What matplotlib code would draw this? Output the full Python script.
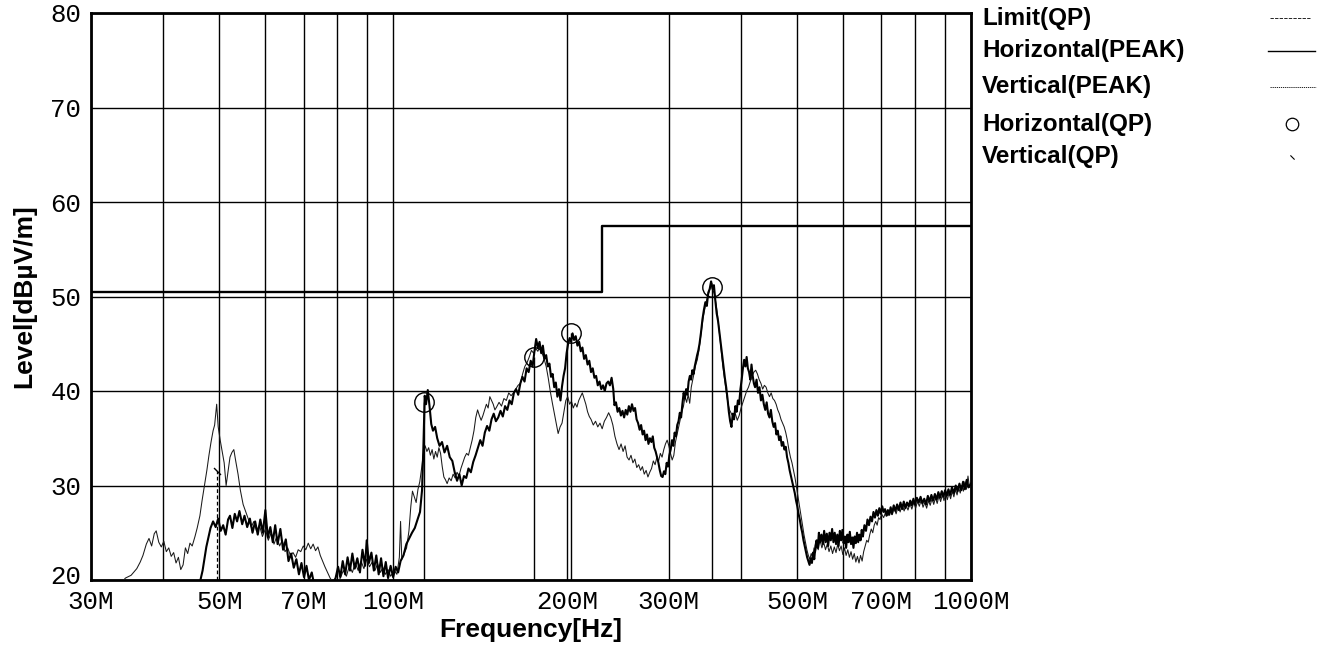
import matplotlib
matplotlib.use("Agg")
import matplotlib.pyplot as plt
from matplotlib.lines import Line2D
from matplotlib.path import Path
from matplotlib.ticker import NullLocator
from matplotlib.transforms import ScaledTranslation

# ---------------- data ----------------
grid_freqs = [30, 40, 50, 60, 70, 80, 90, 100, 200, 300, 400, 500, 600, 700, 800, 900, 1000]
x_tick_labels = ["30M", "", "50M", "", "70M", "", "", "100M", "200M", "300M", "",
                 "500M", "", "700M", "", "", "1000M"]
y_ticks = [20, 30, 40, 50, 60, 70, 80]
y_tick_labels = ["20", "30", "40", "50", "60", "70", "80"]

limit_freq = [30, 230, 230, 1000]
limit_level = [50.5, 50.5, 57.5, 57.5]

h_peak_freq = [30, 44, 46.2, 46.8, 47.5, 48.3, 48.8, 49.3, 49.8, 50.3, 50.8, 51.3, 51.8, 52.2, 52.7, 53.2,
    53.7, 54.2, 54.8, 55.3, 55.9, 56.5, 57.1, 57.7, 58.3, 58.9, 59.5, 60.1, 60.7, 61.3, 61.9, 62.5,
    63.1, 63.8, 64.5, 65.2, 65.9, 66.6, 67.3, 68.0, 68.7, 69.4, 70.1, 70.8, 71.5, 72.3, 73.0, 75, 78,
    79.5, 80.3, 81.0, 81.8, 82.6, 83.4, 84.2, 85.0, 85.8, 86.7, 87.6, 88.5, 89.4, 90.0, 90.8, 91.7,
    92.6, 93.5, 94.4, 95.3, 96.2, 97.1, 98.0, 99.0, 100.0, 101.0, 102.0, 103.0, 104.2, 105.4, 106.6,
    107.8, 109.0, 110.2, 111.3, 112.2, 112.8, 113.4, 114.0, 114.8, 115.6, 116.4, 117.2, 118.2, 119.2,
    120.3, 121.5, 122.7, 124.0, 125.3, 126.6, 127.8, 129.0, 130.2, 131.4, 132.6, 133.8, 135.0, 136.3,
    137.6, 138.9, 140.2, 141.5, 142.8, 144.1, 145.4, 146.7, 148.0, 149.3, 150.6, 152.0, 153.4, 154.8,
    156.2, 157.6, 159.0, 160.4, 161.8, 163.2, 164.6, 166.0, 167.4, 168.8, 170.2, 171.6, 173.0, 174.3,
    175.6, 176.8, 178.0, 179.2, 180.4, 181.6, 182.8, 184.0, 185.2, 186.4, 187.6, 188.8, 190.0, 191.2,
    192.4, 193.6, 194.8, 196.0, 197.2, 198.4, 199.6, 200.8, 202.0, 203.2, 204.4, 205.6, 207.0, 208.4,
    209.8, 211.2, 212.6, 214.0, 215.5, 217.0, 218.5, 220.0, 221.5, 223.0, 224.5, 226.0, 227.6, 229.2,
    230.8, 232.4, 234.0, 235.6, 237.2, 238.8, 240.4, 241.5, 243.0, 244.6, 246.2, 247.8, 249.4, 251.0,
    252.6, 254.2, 255.8, 257.4, 259.0, 260.6, 262.2, 263.8, 265.4, 267.0, 268.6, 270.2, 271.8, 273.4,
    275.0, 276.6, 278.2, 279.8, 281.4, 283.0, 284.6, 286.2, 287.8, 289.4, 291.0, 292.6, 294.2, 295.8,
    297.4, 299.0, 300.6, 302.2, 303.8, 305.4, 307.0, 308.6, 310.2, 311.8, 313.4, 315.0, 316.6, 318.2,
    319.8, 321.4, 323.0, 324.6, 326.2, 327.8, 329.4, 331.0, 332.6, 334.2, 335.8, 337.4, 339.0, 341.0,
    343.0, 345.0, 347.0, 349.0, 351.0, 353.0, 355.0, 357.0, 359.0, 361.0, 363.0, 365.0, 367.0, 369.0,
    371.0, 373.0, 375.0, 377.0, 379.0, 381.0, 383.0, 385.0, 387.0, 389.0, 391.0, 393.0, 395.0, 397.0,
    399.0, 401.0, 403.0, 405.0, 407.0, 409.0, 411.0, 413.0, 415.0, 417.0, 419.0, 421.0, 423.0, 425.5,
    428.0, 430.5, 433.0, 435.5, 438.0, 440.5, 443.0, 445.5, 448.0, 450.5, 453.0, 455.5, 458.0, 460.5,
    463.0, 465.5, 468.0, 470.5, 473.0, 475.5, 478.0, 480.5, 483.0, 485.5, 488.0, 490.5, 493.0, 495.5,
    498.0, 500.5, 503.0, 505.5, 508.0, 510.5, 513.0, 515.5, 518.0, 520.5, 523.0, 525.5, 528.0, 530.5,
    533.0, 535.5, 538.0, 540.5, 543.0, 545.5, 548.0, 551.0, 554.0, 557.0, 560.0, 563.0, 566.0, 569.0,
    572.0, 575.0, 578.0, 581.0, 584.0, 587.0, 590.0, 593.0, 596.0, 599.0, 602.0, 605.0, 608.0, 611.0,
    614.0, 617.0, 620.0, 623.0, 626.0, 629.0, 632.0, 635.0, 638.0, 641.0, 644.0, 647.0, 650.0, 654.0,
    658.0, 662.0, 666.0, 670.0, 674.0, 678.0, 682.0, 686.0, 690.0, 694.0, 698.0, 702.0, 706.0, 710.0,
    714.0, 718.0, 722.0, 726.0, 730.0, 735.0, 740.0, 745.0, 750.0, 755.0, 760.0, 765.0, 770.0, 775.0,
    780.0, 785.0, 790.0, 795.0, 800.0, 806.0, 812.0, 818.0, 824.0, 830.0, 836.0, 842.0, 848.0, 854.0,
    860.0, 866.0, 872.0, 878.0, 884.0, 890.0, 896.0, 902.0, 908.0, 914.0, 920.0, 927.0, 934.0, 941.0,
    948.0, 955.0, 962.0, 969.0, 976.0, 983.0, 990.0, 1000.0]
h_peak_level = [17, 17, 19.5, 21, 23.5, 25.5, 26.2, 25.6, 26.5, 25.2, 25.8, 24.8, 26.4, 26.8, 25.5, 27.0,
    26.2, 27.3, 25.9, 26.8, 25.6, 26.5, 25.0, 26.2, 24.8, 26.4, 25.0, 27.4, 24.5, 25.6, 24.0, 25.8,
    23.8, 25.4, 23.2, 24.3, 22.0, 22.8, 21.3, 22.2, 20.6, 21.8, 20.3, 21.5, 20.0, 20.8, 19.5, 19, 19.3,
    20.2, 21.4, 20.3, 22.0, 20.6, 22.4, 21.0, 22.8, 21.2, 22.3, 20.8, 23.2, 21.5, 24.2, 21.8, 22.9,
    21.0, 22.6, 20.6, 22.3, 20.4, 21.9, 20.2, 21.5, 20.3, 21.4, 20.8, 22.0, 22.6, 23.8, 24.4,
    25.0, 25.5, 26.4, 27.2, 29.5, 34.0, 39.5, 38.6, 40.1, 38.4, 36.5, 35.8, 36.2, 35.0,
    34.2, 34.6, 33.5, 34.2, 33.0, 32.6, 31.4, 30.5, 31.2, 30.0, 31.0, 30.8, 31.8, 31.4,
    32.5, 33.2, 34.0, 34.8, 34.2, 35.6, 36.3, 35.8, 37.0, 37.6, 36.8, 37.2, 37.9, 37.3,
    38.4, 38.0, 39.0, 38.6, 39.8, 40.2, 39.6, 40.8, 41.5, 41.0, 42.4, 42.0, 43.2, 42.6,
    44.2, 45.5, 44.6, 45.2, 44.0, 44.8, 43.4, 43.8, 42.6, 42.9, 41.5, 41.8, 40.4, 40.9,
    39.4, 40.2, 39.0, 40.5, 41.6, 42.4, 44.0, 45.0, 45.6, 45.2, 46.1, 45.4, 45.8, 44.8,
    45.2, 44.2, 44.6, 43.4, 43.8, 42.8, 43.2, 42.0, 42.4, 41.4, 41.6, 40.6, 41.0, 40.2,
    40.6, 40.0, 40.8, 41.0, 40.6, 41.4, 40.2, 38.5, 38.8, 37.8, 38.2, 37.4, 37.9, 37.2,
    38.0, 37.5, 38.4, 37.8, 38.6, 37.9, 38.2, 37.0, 36.6, 35.9, 36.4, 35.4, 35.8, 34.8,
    35.4, 34.4, 35.0, 34.6, 35.2, 34.0, 33.6, 33.0, 32.4, 31.6, 31.0, 30.9, 31.5, 31.2,
    32.4, 32.0, 33.2, 33.8, 34.8, 34.2, 35.6, 35.2, 36.4, 36.8, 37.7, 37.2, 38.6, 39.8,
    39.2, 40.2, 39.6, 41.0, 41.6, 41.2, 42.2, 41.8, 42.6, 43.2, 43.8, 44.3, 45.0, 46.2,
    47.6, 48.6, 49.4, 49.0, 50.4, 50.8, 51.6, 50.8, 51.2, 49.6, 48.2, 47.4, 46.2, 45.1,
    43.8, 42.6, 41.4, 40.4, 39.2, 37.8, 36.8, 36.2, 37.6, 37.0, 38.4, 37.8, 39.0, 38.6,
    40.2, 41.2, 42.4, 43.3, 42.6, 43.6, 42.4, 42.0, 41.2, 42.8, 41.6, 40.8, 40.4, 41.2,
    39.8, 40.4, 39.0, 39.6, 38.6, 38.0, 38.8, 37.6, 37.2, 38.0, 36.8, 36.2, 36.6, 35.4,
    35.8, 34.8, 35.2, 34.2, 34.6, 33.8, 34.1, 33.0, 32.4, 31.6, 31.0, 30.4, 29.8, 29.2,
    28.4, 27.8, 27.0, 26.4, 25.6, 25.0, 24.2, 23.6, 23.0, 22.4, 22.0, 21.6, 22.3, 21.8,
    22.9, 22.2, 23.6, 24.2, 23.4, 25.0, 24.0, 24.8, 23.8, 25.2, 24.0, 24.9, 23.6, 25.0,
    24.2, 25.4, 24.0, 25.0, 23.8, 24.8, 23.6, 25.2, 24.2, 25.3, 23.9, 24.6, 23.4, 24.8,
    24.0, 25.1, 23.8, 24.5, 23.4, 24.6, 23.9, 25.0, 24.0, 24.8, 24.2, 25.3, 24.6, 25.8,
    25.2, 26.4, 25.8, 26.7, 26.2, 27.2, 26.6, 27.4, 26.8, 27.6, 27.0, 27.8, 27.2, 27.5,
    26.8, 27.4, 26.9, 27.7, 27.0, 27.9, 27.3, 28.0, 27.4, 28.2, 27.5, 28.3, 27.6, 28.2,
    27.8, 28.4, 27.9, 28.6, 28.0, 28.7, 28.2, 28.8, 28.1, 28.6, 28.0, 28.9, 28.3, 29.0,
    28.4, 29.1, 28.5, 29.3, 28.7, 29.4, 28.8, 29.5, 28.9, 29.6, 29.0, 29.8, 29.2, 30.0,
    29.4, 30.2, 29.5, 30.4, 29.6, 30.6, 29.8, 30.2]

v_peak_freq = [30, 33, 34.4, 35.2, 36.0, 36.5, 36.9, 37.4, 37.8, 38.2, 38.6, 38.9, 39.3, 39.7, 40.1, 40.5,
    40.9, 41.3, 41.7, 42.1, 42.5, 42.9, 43.3, 43.7, 44.1, 44.5, 44.9, 45.4, 45.8, 46.3, 46.7, 47.2,
    47.6, 48.0, 48.4, 48.8, 49.1, 49.5, 49.8, 50.2, 50.6, 51.0, 51.4, 51.8, 52.2, 52.6, 53.0, 53.4,
    53.9, 54.4, 55.0, 55.6, 56.2, 56.8, 57.4, 58.0, 58.7, 59.4, 60.1, 60.8, 61.5, 62.2, 62.9, 63.6,
    64.3, 65.0, 65.7, 66.4, 67.1, 67.8, 68.5, 69.2, 69.9, 70.6, 71.3, 72.0, 72.7, 73.4, 74.1, 74.8,
    75.5, 76.2, 77.0, 77.8, 78.6, 80, 81, 82, 83, 84, 85, 86, 87, 88, 89, 90, 91, 92, 93, 94, 95, 96,
    97, 98, 99, 100.5, 101.5, 102.5, 103.0, 103.5, 104.5, 105.5, 106.5, 107.3, 108.0, 108.8, 109.6,
    110.4, 111.2, 112.0, 112.8, 113.6, 114.4, 115.2, 116.0, 116.8, 117.6, 118.4, 119.2, 120.0, 120.8,
    121.6, 122.4, 123.2, 124.0, 125.0, 126.0, 127.0, 128.0, 129.0, 130.0, 131.0, 132.0, 133.0, 134.0,
    135.0, 136.0, 137.0, 138.0, 139.0, 140.0, 141.0, 142.0, 143.0, 144.0, 145.0, 146.0, 147.0, 148.0,
    149.0, 150.0, 151.0, 152.5, 154.0, 155.5, 157.0, 158.5, 160.0, 161.5, 163.0, 164.5, 166.0, 167.5,
    169.0, 170.5, 172.0, 173.5, 175.0, 176.5, 178.0, 179.5, 181.0, 182.5, 184.0, 185.5, 187.0, 188.5,
    190.0, 191.5, 193.0, 194.5, 196.0, 197.5, 199.0, 200.5, 202.0, 203.5, 205.0, 206.5, 208.0, 209.5,
    211.0, 212.5, 214.0, 215.5, 217.0, 218.5, 220.0, 222.0, 224.0, 226.0, 228.0, 230.0, 232.0, 234.0,
    236.0, 238.0, 240.0, 242.0, 244.0, 246.0, 248.0, 250.0, 252.0, 254.0, 256.0, 258.0, 260.0, 262.0,
    264.0, 266.0, 268.0, 270.0, 272.0, 274.0, 276.0, 278.0, 280.0, 282.0, 284.0, 286.0, 288.0, 290.0,
    292.0, 294.0, 296.0, 298.0, 300.0, 302.0, 304.0, 306.0, 308.0, 310.0, 312.0, 314.0, 316.0, 318.0,
    320.0, 322.0, 324.0, 326.0, 328.0, 330.0, 332.0, 334.0, 336.0, 338.0, 340.0, 342.0, 344.0, 346.0,
    348.0, 350.0, 352.0, 354.0, 356.0, 358.0, 360.0, 362.0, 364.0, 366.0, 368.0, 370.0, 372.0, 374.0,
    376.0, 378.0, 380.0, 382.0, 385.0, 388.0, 391.0, 394.0, 397.0, 400.0, 403.0, 406.0, 409.0, 412.0,
    415.0, 418.0, 421.0, 424.0, 427.0, 430.0, 433.0, 436.0, 439.0, 442.0, 445.0, 448.0, 451.0, 454.0,
    457.0, 460.0, 463.0, 466.0, 469.0, 472.0, 475.0, 478.0, 481.0, 484.0, 487.0, 490.0, 493.0, 496.0,
    499.0, 502.0, 505.0, 508.0, 511.0, 514.0, 517.0, 520.0, 523.0, 526.0, 529.0, 532.0, 535.0, 538.0,
    541.0, 544.0, 548.0, 552.0, 556.0, 560.0, 564.0, 568.0, 572.0, 576.0, 580.0, 584.0, 588.0, 592.0,
    596.0, 600.0, 604.0, 608.0, 612.0, 616.0, 620.0, 624.0, 628.0, 632.0, 636.0, 640.0, 644.0, 648.0,
    652.0, 656.0, 660.0, 664.0, 668.0, 672.0, 676.0, 680.0, 684.0, 688.0, 692.0, 696.0, 700.0, 706,
    712, 718, 724, 730, 736, 742, 748, 754, 760, 766, 772, 778, 784, 790, 796, 802, 808, 814, 820,
    826, 832, 838, 844, 850, 856, 862, 868, 874, 880, 886, 892, 898, 904, 910, 916, 922, 928, 934,
    940, 946, 952, 958, 964, 970, 976, 982, 988, 994, 1000]
v_peak_level = [18, 18.8, 20.2, 20.5, 21.2, 21.9, 22.6, 23.8, 24.4, 23.6, 24.9, 25.2, 24.0, 23.5, 24.1, 23.0,
    23.4, 22.5, 22.9, 21.8, 22.4, 21.1, 21.6, 23.4, 22.8, 23.9, 23.6, 24.6, 25.5, 26.8, 28.4, 30.2,
    31.6, 33.2, 34.6, 35.8, 36.4, 38.6, 36.2, 34.8, 33.6, 32.4, 30.0, 31.5, 33.0, 33.5, 33.8, 32.6,
    31.2, 29.5, 28.0, 27.2, 26.4, 25.6, 26.2, 25.2, 25.8, 24.6, 25.4, 24.2, 25.0, 23.8, 24.6, 23.6,
    24.2, 23.0, 23.4, 22.6, 22.9, 22.4, 23.2, 23.0, 23.6, 23.2, 23.9, 23.3, 23.8, 23.1, 23.5, 22.6,
    22.0, 21.4, 20.8, 20.2, 19.8, 19.6, 20.2, 21.0, 20.4, 21.5, 20.8, 21.8, 21.0, 22.0, 21.2, 22.2,
    21.4, 21.9, 21.0, 21.7, 20.8, 21.3, 20.6, 21.1, 20.4, 21.0, 20.6, 22.4, 26.2, 22.2, 22.8, 23.4,
    25.2, 27.8, 29.4, 28.8, 28.2, 29.6, 30.4, 31.8, 33.4, 34.2, 33.6, 34.0, 33.2, 33.8, 32.8, 33.6,
    33.0, 34.0, 33.4, 32.0, 30.9, 30.6, 30.2, 30.8, 30.5, 31.2, 30.8, 31.4, 31.0, 31.8, 32.4, 33.0,
    33.4, 33.2, 34.0, 34.8, 35.8, 37.2, 38.0, 37.4, 36.9, 37.4, 38.0, 38.6, 38.2, 39.4, 39.0, 38.6,
    38.0, 38.3, 38.8, 38.4, 39.2, 39.0, 39.8, 39.5, 39.8, 40.2, 40.6, 40.8, 41.8, 42.6, 43.0, 43.6,
    44.3, 44.0, 44.5, 44.2, 44.7, 44.0, 43.4, 42.6, 41.4, 40.0, 38.8, 37.7, 36.6, 35.5, 36.2, 36.6,
    37.8, 39.0, 39.4, 38.6, 38.9, 38.2, 38.7, 38.3, 39.0, 39.4, 39.8, 39.2, 38.6, 37.8, 37.3, 37.0,
    36.4, 36.8, 36.2, 36.6, 36.0, 36.8, 37.2, 37.7, 37.2, 36.4, 35.2, 34.4, 33.8, 34.4, 33.6, 34.2,
    33.0, 32.7, 33.2, 32.4, 32.8, 31.9, 32.2, 31.6, 32.0, 31.2, 31.6, 30.9, 31.4, 31.8, 32.6, 32.2,
    33.0, 32.6, 33.4, 33.0, 33.8, 34.4, 34.8, 34.2, 33.4, 32.7, 33.2, 34.6, 35.4, 36.2, 37.0, 37.8,
    38.4, 39.4, 38.8, 39.6, 38.7, 40.4, 41.2, 42.0, 42.8, 43.3, 44.2, 45.4, 46.6, 47.8, 48.6, 49.4,
    50.0, 50.4, 51.0, 51.4, 50.6, 50.2, 49.2, 48.2, 46.8, 45.4, 44.0, 42.6, 41.5, 40.4, 39.4, 38.6,
    38.0, 37.6, 37.2, 37.6, 36.9, 37.4, 38.2, 38.8, 39.4, 40.0, 40.4, 41.0, 41.6, 42.0, 42.2, 41.8,
    41.2, 40.8, 40.2, 40.6, 40.4, 39.8, 39.4, 39.8, 39.2, 39.0, 38.6, 38.0, 37.6, 37.0, 36.6, 36.2,
    35.6, 34.8, 33.8, 33.0, 32.4, 31.6, 30.8, 29.8, 28.8, 27.8, 26.8, 25.8, 24.8, 24.0, 23.2, 22.6,
    22.2, 22.8, 22.4, 23.4, 22.9, 23.8, 23.2, 24.2, 23.4, 24.0, 23.2, 23.8, 23.0, 23.6, 22.8, 23.5,
    22.9, 23.8, 23.1, 23.6, 22.7, 23.4, 22.6, 23.2, 22.4, 23.0, 22.2, 22.8, 21.9, 22.5, 21.8, 22.6,
    22.0, 23.0, 23.6, 24.2, 24.0, 24.8, 25.4, 25.0, 25.8, 26.2, 25.8, 26.6, 26.4, 27.0, 26.6,
    27.2, 26.8, 27.4, 26.9, 27.6, 27.0, 27.8, 27.2, 28.0, 27.3, 27.9, 27.4, 28.1, 27.5, 28.2, 27.6, 28.3,
    27.8, 28.5, 27.7, 28.2, 27.6, 28.4, 27.9, 28.6, 28.0, 28.7, 28.1, 28.9, 28.3, 29.0, 28.4, 29.1,
    28.5, 29.2, 28.6, 29.4, 28.8, 29.6, 29.0, 29.8, 29.2, 30.0, 29.4, 30.4, 29.6, 31.0, 29.8, 30.0]

h_qp_freq = [113, 175, 203, 356]
h_qp_level = [38.8, 43.6, 46.1, 51.0]
v_qp_freq = [49.5]
v_qp_level = [31.5]

legend_labels = ["Limit(QP)", "Horizontal(PEAK)", "Vertical(PEAK)", "Horizontal(QP)", "Vertical(QP)"]

# ---------------- figure ----------------
W, H = 1322, 645
fig = plt.figure(figsize=(W / 100, H / 100), dpi=100)
ax_l, ax_r, ax_t, ax_b = 91, 971, 13, 580
ax = fig.add_axes([ax_l / W, 1 - ax_b / H, (ax_r - ax_l) / W, (ax_b - ax_t) / H])
ax.set_xscale("log")
ax.set_xlim(30, 1000)
ax.set_ylim(20, 80)

ax.plot(limit_freq, limit_level, color="black", lw=1.7, zorder=3)
ax.plot(v_peak_freq, v_peak_level, color="#1a1a1a", lw=0.75, zorder=4)
ax.plot(h_peak_freq, h_peak_level, color="black", lw=1.5, zorder=5)

ax.vlines(h_qp_freq, 20, h_qp_level, color="black", lw=1.0, zorder=4)
ax.plot(h_qp_freq, h_qp_level, linestyle="none", marker="o", markersize=14,
        markerfacecolor="none", markeredgecolor="black", markeredgewidth=1.0, zorder=6)
ax.vlines(v_qp_freq, 20, v_qp_level, color="black", lw=0.9, linestyles=(0, (3, 2)), zorder=4)
diag = Path([(-1, 1), (1, -1)], [Path.MOVETO, Path.LINETO])
ax.plot(v_qp_freq, v_qp_level, linestyle="none", marker=diag, markersize=5,
        markeredgecolor="black", markeredgewidth=1.0, zorder=6)

ax.set_xticks(grid_freqs)
ax.set_xticklabels(x_tick_labels)
ax.xaxis.set_minor_locator(NullLocator())
ax.set_yticks(y_ticks)
ax.set_yticklabels(y_tick_labels)
ax.grid(True, color="black", lw=1.0, zorder=1)
ax.tick_params(axis="both", length=0)
ax.tick_params(axis="x", pad=7)
ax.tick_params(axis="y", pad=7)
for lbl in ax.get_xticklabels() + ax.get_yticklabels():
    lbl.set_fontfamily("Liberation Mono")
    lbl.set_fontsize(18.5)
# lift the bottom y label slightly so it clears the x labels (as in the reference)
ylbls = ax.get_yticklabels()
ylbls[0].set_transform(ylbls[0].get_transform() + ScaledTranslation(0, 6 / 100, fig.dpi_scale_trans))

for s in ax.spines.values():
    s.set_linewidth(2.0)
    s.set_color("black")

lab_font = dict(family="Liberation Sans", weight="bold", size=19)
ax.set_xlabel("Frequency[Hz]", fontdict=lab_font, labelpad=3)
ax.set_ylabel("Level[dBµV/m]", fontdict=lab_font, labelpad=10)

# ---------------- legend (outside, right) ----------------
rows_y = [18, 51, 87, 124, 157]
tx = 982
for lab, yy in zip(legend_labels, rows_y):
    fig.text(tx / W, 1 - yy / H, lab, ha="left", va="center",
             fontfamily="Liberation Sans", fontweight="bold", fontsize=17.5)

def fx(px):
    return px / W

def fy(py):
    return 1 - py / H

fig.add_artist(Line2D([fx(1270), fx(1310)], [fy(rows_y[0]), fy(rows_y[0])],
                      color="black", lw=0.6, linestyle=(0, (4, 1.5)), transform=fig.transFigure))
fig.add_artist(Line2D([fx(1268), fx(1315)], [fy(rows_y[1]), fy(rows_y[1])],
                      color="black", lw=1.0, transform=fig.transFigure))
fig.add_artist(Line2D([fx(1270), fx(1316)], [fy(rows_y[2]), fy(rows_y[2])],
                      color="black", lw=0.6, linestyle=(0, (1.5, 1)), transform=fig.transFigure))
fig.add_artist(Line2D([fx(1292)], [fy(rows_y[3])], linestyle="none", marker="o", markersize=9,
                      markerfacecolor="none", markeredgecolor="black", markeredgewidth=0.9,
                      transform=fig.transFigure))
fig.add_artist(Line2D([fx(1292)], [fy(rows_y[4])], linestyle="none", marker=diag, markersize=3,
                      markeredgecolor="black", markeredgewidth=0.8, transform=fig.transFigure))

fig.savefig("out.png", dpi=100)
